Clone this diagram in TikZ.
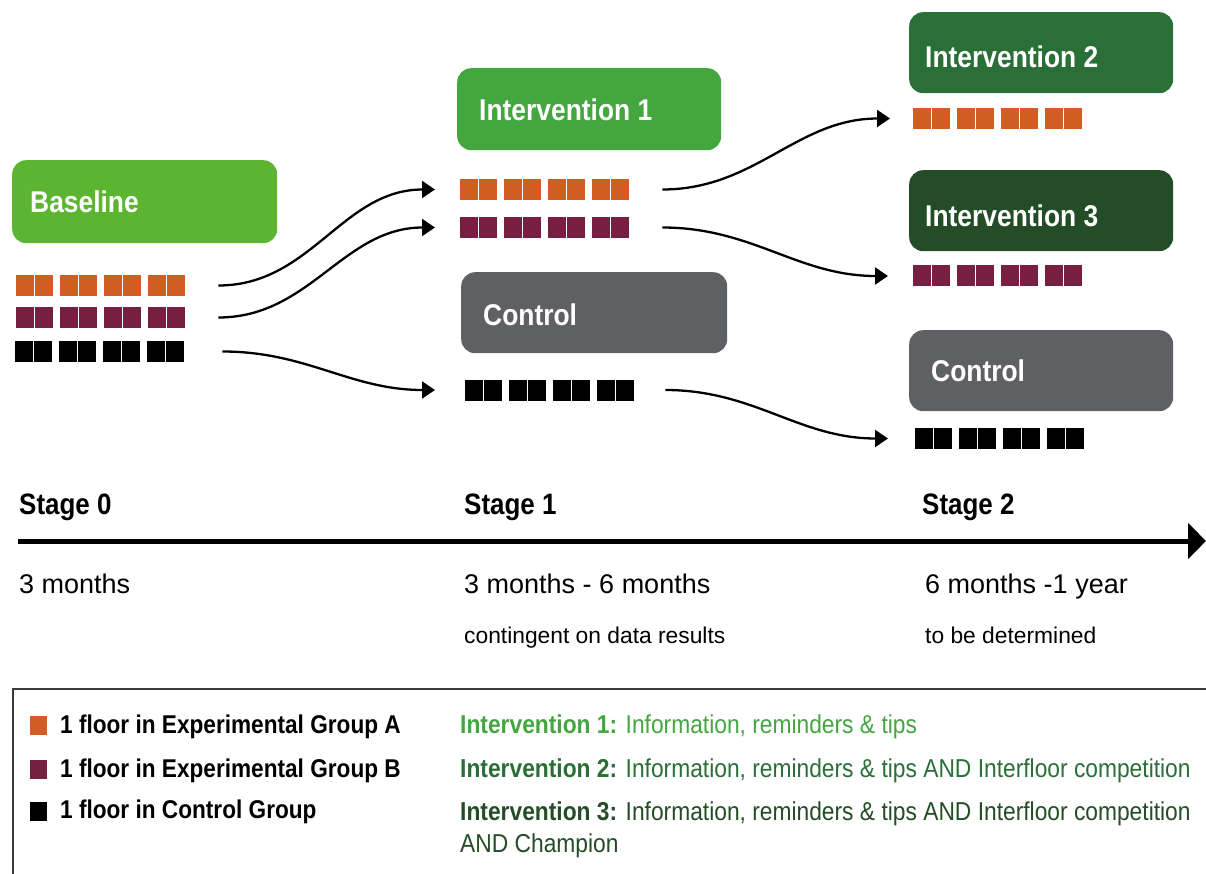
\documentclass[tikz,border=0pt]{standalone}
\usepackage{fontspec}
\setmainfont{Liberation Sans}
\newfontfamily\narrowsans{Liberation Sans}[FakeStretch=0.88]
\usetikzlibrary{arrows.meta}

\definecolor{orangeA}{HTML}{D05E22}
\definecolor{purpleB}{HTML}{771F40}
\definecolor{greenBase}{HTML}{5CB531}
\definecolor{greenOne}{HTML}{43A63F}
\definecolor{greenTwo}{HTML}{2A6E38}
\definecolor{greenThree}{HTML}{244D27}
\definecolor{ctrlgray}{HTML}{5F6063}
\definecolor{framegray}{HTML}{3A3A3A}

\tikzset{
  phasebox/.style={rounded corners=14pt, minimum width=265pt, minimum height=82pt,
    inner sep=0pt, anchor=north west, draw=none},
  phasetext/.style={anchor=west, inner sep=0pt, text=white,
    font=\narrowsans\bfseries\fontsize{30}{36}\selectfont},
  floorrow/.style={minimum width=169pt, minimum height=21pt, inner sep=0pt, anchor=west},
  flow/.style={line width=2.3pt, -{Triangle[length=13pt,width=17pt]}},
  timeline/.style={line width=5pt, -{Triangle[length=18pt,width=35pt]}},
  stagelabel/.style={anchor=base west, inner sep=0pt,
    font=\narrowsans\bfseries\fontsize{29.5}{34}\selectfont},
  duration/.style={anchor=base west, inner sep=0pt, font=\fontsize{27}{32}\selectfont},
  note/.style={anchor=base west, inner sep=0pt, font=\fontsize{22.8}{28}\selectfont},
  legendframe/.style={line width=2pt, draw=framegray},
  legendkey/.style={minimum width=17pt, minimum height=19pt, inner sep=0pt},
  legendtext/.style={anchor=base west, inner sep=0pt,
    font=\narrowsans\bfseries\fontsize{25.7}{30}\selectfont},
  deftext/.style={anchor=base west, inner sep=0pt,
    font=\narrowsans\fontsize{25.9}{32.5}\selectfont},
}

% a row of eight floors, grouped in pairs
\newcommand\floorrow[4]{%
  \node[floorrow] (#1) at (#3,#4) {};
  \foreach \k in {0,...,3}{%
    \fill[#2] ({#3+44*\k},{#4-10.5}) rectangle ++(17.5,21);
    \fill[#2] ({#3+44*\k+19},{#4-10.5}) rectangle ++(17.5,21);
  }%
}

\begin{document}
\begin{tikzpicture}[x=1pt,y=-1pt]
\useasboundingbox (0,0) rectangle (1206,874);
\clip (0,0) rectangle (1206,874);

% phase boxes
\node[phasebox, fill=greenBase, minimum height=83pt] (base) at (12,160) {};
\node[phasetext] (baselbl) at ([xshift=18]base.west) {Baseline};

\node[phasebox, fill=greenOne, minimum width=264pt] (int1) at (457,68) {};
\node[phasetext] (int1lbl) at ([xshift=22,yshift=-1]int1.west) {Intervention 1};

\node[phasebox, fill=ctrlgray, minimum width=266pt, minimum height=81pt] (ctrl1) at (461,272) {};
\node[phasetext] (ctrl1lbl) at ([xshift=22,yshift=-2]ctrl1.west) {Control};

\node[phasebox, fill=greenTwo, minimum width=264pt, minimum height=81pt] (int2) at (909,12) {};
\node[phasetext] (int2lbl) at ([xshift=16,yshift=-4]int2.west) {Intervention 2};

\node[phasebox, fill=greenThree, minimum width=264pt, minimum height=81pt] (int3) at (909,170) {};
\node[phasetext] (int3lbl) at ([xshift=16,yshift=-5]int3.west) {Intervention 3};

\node[phasebox, fill=ctrlgray, minimum width=264pt, minimum height=81pt] (ctrl2) at (909,330) {};
\node[phasetext] (ctrl2lbl) at ([xshift=22]ctrl2.west) {Control};

% floor rows
\floorrow{b0A}{orangeA}{16}{285.5}
\floorrow{b0B}{purpleB}{16}{317.5}
\floorrow{b0C}{black}{15}{351.5}
\floorrow{s1A}{orangeA}{460}{189.5}
\floorrow{s1B}{purpleB}{460}{227.5}
\floorrow{s1C}{black}{465}{390}
\floorrow{s2A}{orangeA}{913}{118.5}
\floorrow{s2B}{purpleB}{913}{276}
\floorrow{s2C}{black}{915}{438.5}

% transitions between stages
\draw[flow] ([xshift=33]b0A.east) to[out=0,in=180] ([xshift=-25]s1A.west);
\draw[flow] ([xshift=33]b0B.east) to[out=0,in=180] ([xshift=-25]s1B.west);
\draw[flow] ([xshift=38]b0C.east) to[out=0,in=180] ([xshift=-30]s1C.west);
\draw[flow] ([xshift=33]s1A.east) to[out=0,in=180] ([xshift=-23]s2A.west);
\draw[flow] ([xshift=33]s1B.east) to[out=0,in=180] ([xshift=-25]s2B.west);
\draw[flow] ([xshift=31]s1C.east) to[out=0,in=180] ([xshift=-27]s2C.west);

% time axis
\node[stagelabel] (st0) at (19,514) {Stage 0};
\node[stagelabel] (st1) at (464,514) {Stage 1};
\node[stagelabel] (st2) at (922,514) {Stage 2};
\coordinate (axisstart) at (18,541);
\coordinate (axisend) at (1206,541);
\draw[timeline] (axisstart) -- (axisend);

\node[duration] (d0) at (19,593) {3 months};
\node[duration] (d1) at (464,593) {3 months - 6 months};
\node[duration] (d2) at (925,593) {6 months -1 year};
\node[note] (n1) at (464,643) {contingent on data results};
\node[note] (n2) at (925,643) {to be determined};

% legend
\draw[legendframe] (13,689) rectangle (1240,920);
\node[legendkey, fill=orangeA] (keyA) at (38.5,725) {};
\node[legendkey, fill=purpleB] (keyB) at (38.5,769) {};
\node[legendkey, fill=black] (keyC) at (38.5,811) {};
\node[legendtext] (txtA) at (60,733) {1 floor in Experimental Group A};
\node[legendtext] (txtB) at (60,777) {1 floor in Experimental Group B};
\node[legendtext] (txtC) at (60,818) {1 floor in Control Group};

\node[deftext, text=greenOne] (def1) at (460,733)
  {{\bfseries Intervention 1:} Information, reminders \& tips};
\node[deftext, text=greenTwo] (def2) at (460,777)
  {{\bfseries Intervention 2:} Information, reminders \& tips AND Interfloor competition};
\node[deftext, text=greenThree] (def3) at (460,820)
  {{\bfseries Intervention 3:} Information, reminders \& tips AND Interfloor competition};
\node[deftext, text=greenThree] (def3b) at (460,852) {AND Champion};
\end{tikzpicture}
\end{document}
